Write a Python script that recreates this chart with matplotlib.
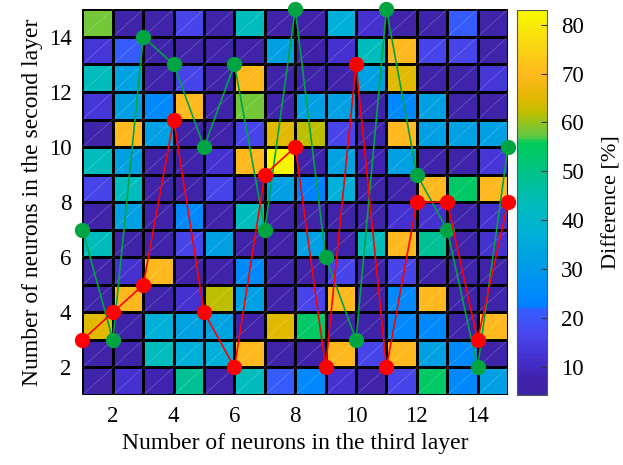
import numpy as np
import matplotlib
matplotlib.use("Agg")
import matplotlib.pyplot as plt
from matplotlib.colors import LinearSegmentedColormap, Normalize

plt.rcParams['font.family'] = ['Liberation Serif', 'DejaVu Serif']

# neurons in the third layer (x) and chosen second-layer sizes (y)
x_third = list(range(1, 16))
red_second = [3, 4, 5, 11, 4, 2, 9, 10, 2, 13, 2, 8, 8, 3, 8]
green_second = [7, 3, 14, 13, 10, 13, 7, 15, 6, 3, 15, 9, 7, 2, 10]

# difference [%] of each cell, rows from the top (y=14) down to y=1
diff_rows = [
    [58, 6, 6, 16, 6, 43, 6, 6, 37, 12, 6, 6, 21, 6],
    [13, 21, 6, 6, 6, 6, 32, 7, 12, 43, 70, 16, 16, 6],
    [43, 33, 6, 16, 6, 70, 6, 6, 6, 32, 65, 6, 6, 13],
    [13, 32, 24, 70, 6, 58, 6, 32, 32, 6, 24, 32, 6, 6],
    [6, 70, 32, 6, 6, 16, 65, 62, 16, 6, 70, 32, 32, 32],
    [43, 32, 6, 6, 12, 70, 82, 6, 33, 8, 32, 6, 6, 13],
    [16, 43, 6, 6, 16, 6, 32, 23, 37, 6, 6, 70, 54, 70],
    [6, 32, 6, 24, 6, 43, 6, 6, 6, 6, 12, 12, 6, 12],
    [43, 6, 6, 16, 32, 6, 6, 32, 6, 43, 70, 48, 6, 12],
    [6, 12, 70, 6, 6, 25, 6, 6, 16, 6, 16, 6, 6, 6],
    [6, 70, 6, 12, 62, 32, 6, 16, 70, 6, 25, 70, 6, 6],
    [65, 6, 37, 33, 33, 6, 65, 54, 6, 6, 24, 24, 6, 70],
    [6, 6, 43, 37, 37, 70, 6, 6, 70, 16, 70, 32, 24, 6],
    [6, 12, 8, 48, 6, 43, 21, 24, 12, 6, 16, 54, 24, 32],
]

vmin, vmax = 4.2, 83.0
anchors = [
    (4.2, (62, 38, 168)), (7, (64, 32, 170)), (12, (68, 50, 210)),
    (17, (72, 72, 240)), (21.9, (50, 95, 255)), (22, (0, 125, 255)),
    (24, (0, 136, 255)), (32, (0, 160, 226)), (37, (0, 176, 216)),
    (43, (0, 188, 190)), (48, (0, 192, 150)), (54, (0, 200, 100)),
    (56, (0, 205, 90)), (57, (90, 200, 70)), (58, (110, 200, 60)),
    (62, (190, 190, 0)), (65, (225, 185, 0)), (70, (255, 185, 30)),
    (75, (250, 210, 20)), (83, (248, 248, 0)),
]
cmap = LinearSegmentedColormap.from_list(
    'diffmap',
    [((v - vmin) / (vmax - vmin), tuple(c / 255 for c in col)) for v, col in anchors],
    N=128)

data = np.array(diff_rows[::-1], dtype=float)
edges = np.arange(1, 16)

fig = plt.figure(figsize=(6.23, 4.65), dpi=100)
ax = fig.add_axes([82.5 / 623, 1 - 395 / 465, 425.5 / 623, 385.7 / 465])
mesh = ax.pcolormesh(edges, edges, data, cmap=cmap, norm=Normalize(vmin, vmax),
                     edgecolors='k', linewidth=0.8)

# faint white diagonals across each cell (rendering artefact of the original)
for c in range(-13, 14):
    ax.plot([1, 15], [1 + c, 15 + c], color='white', lw=0.4, alpha=0.3, zorder=1.5)

ax.plot(x_third, green_second, '-o', color='#00a443', lw=1.2, ms=10,
        clip_on=False, zorder=3)
ax.plot(x_third, red_second, '-o', color='#ff0000', lw=1.2, ms=10,
        clip_on=False, zorder=4)

ax.set_xlim(1, 15)
ax.set_ylim(1, 15)
ax.set_xticks(range(2, 15, 2))
ax.set_yticks(range(2, 15, 2))
ax.tick_params(length=0, labelsize=16.5, pad=8)
for s in ax.spines.values():
    s.set_visible(False)
ax.set_xlabel('Number of neurons in the third layer', fontsize=17, labelpad=4)
ax.set_ylabel('Number of neurons in the second layer', fontsize=17, labelpad=4)

cax = fig.add_axes([517.3 / 623, 1 - 395 / 465, 30 / 623, 385 / 465])
cb = fig.colorbar(mesh, cax=cax)
cb.set_ticks(range(10, 90, 10))
cax.tick_params(direction='in', length=4, labelsize=16.5, pad=10, color='#333333')
cb.outline.set_edgecolor('#555555')
cb.set_label('Difference [%]', fontsize=16, labelpad=13)

fig.savefig('out.png', dpi=100)
